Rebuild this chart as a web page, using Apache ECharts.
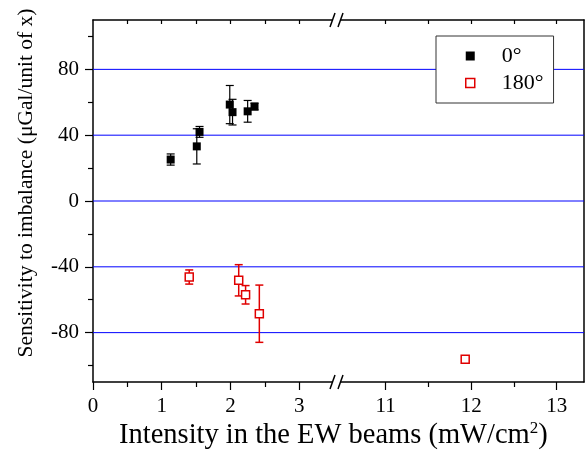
<!DOCTYPE html>
<html><head><meta charset="utf-8">
<script src="https://cdn.jsdelivr.net/npm/echarts@6/dist/echarts.min.js"></script>
<style>html,body{margin:0;padding:0;background:#fff}#c{width:586px;height:451px}</style>
</head><body><div id="c"></div>
<script>
// ---- data ----
const deg0X   = [1.13, 1.51, 1.55, 1.99, 2.03, 2.25, 2.35];
const deg0Y   = [25.2, 33.2, 42.0, 58.6, 54.0, 54.5, 57.4];
const deg0Err = [3.4, 10.7, 3.3, 11.6, 7.8, 6.6, 2.0];
const deg180X   = [1.40, 2.12, 2.22, 2.42, 11.93];
const deg180Y   = [-46.2, -48.2, -57.0, -68.5, -96.2];
const deg180Err = [4.3, 9.5, 5.6, 17.4, 1.0];

const xTicksLeft  = [0, 1, 2, 3];
const xMinorLeft  = [0.5, 1.5, 2.5];
const xTicksRight = [11, 12, 13];
const xMinorRight = [11.5, 12.5];
const xRangeLeft  = [0, 3.55];
const xRangeRight = [10.43, 13.32];
const yTicks = [-80, -40, 0, 40, 80];
const yMinor = [-100, -60, -20, 20, 60, 100];
const yRange = [-110, 110];

const FONT = 'Liberation Serif';

function pts(xs, ys, es, range) {
  const out = [];
  for (let i = 0; i < xs.length; i++) {
    if (xs[i] >= range[0] && xs[i] <= range[1]) out.push([xs[i], ys[i], es[i]]);
  }
  return out;
}

function errRender(color, lw) {
  return function (params, api) {
    const x = api.value(0), y = api.value(1), e = api.value(2);
    const t = api.coord([x, y + e]);
    const b = api.coord([x, y - e]);
    const hw = 4;
    const style = { stroke: color, lineWidth: lw, fill: null };
    return { type: 'group', children: [
      { type: 'line', shape: { x1: t[0], y1: t[1], x2: b[0], y2: b[1] }, style: style },
      { type: 'line', shape: { x1: t[0] - hw, y1: t[1], x2: t[0] + hw, y2: t[1] }, style: style },
      { type: 'line', shape: { x1: b[0] - hw, y1: b[1], x2: b[0] + hw, y2: b[1] }, style: style }
    ]};
  };
}

// blue horizontal reference lines at the major y ticks, drawn through the axes
function hlineRender(params, api) {
  const v = api.value(2);
  const a = api.coord([api.value(0), v]);
  const b = api.coord([api.value(1), v]);
  return { type: 'line', shape: { x1: a[0], y1: a[1], x2: b[0], y2: b[1] },
           style: { stroke: '#0000ff', lineWidth: 1, fill: null } };
}
function hlineData(range) { return yTicks.map(v => [range[0], range[1], v]); }

const axisLineStyle = { show: true, onZero: false, lineStyle: { color: '#000', width: 1.5 } };
const noLine = { show: false, onZero: false };
const lblStyle = { fontFamily: FONT, fontSize: 21, color: '#000' };

function xAxes(gridIndex, range, major, minor) {
  return [
    { type: 'value', gridIndex, position: 'bottom', min: range[0], max: range[1],
      axisLine: axisLineStyle,
      axisTick: { show: true, inside: false, length: 8, customValues: major, lineStyle: { color: '#000', width: 1.2 } },
      axisLabel: { show: true, customValues: major, margin: 14, ...lblStyle },
      splitLine: { show: false } },
    { type: 'value', gridIndex, position: 'bottom', min: range[0], max: range[1],
      axisLine: noLine,
      axisTick: { show: true, inside: false, length: 5, customValues: minor, lineStyle: { color: '#000', width: 1.2 } },
      axisLabel: { show: false }, splitLine: { show: false } },
    { type: 'value', gridIndex, position: 'top', min: range[0], max: range[1],
      axisLine: axisLineStyle,
      axisTick: { show: true, inside: true, length: 4, customValues: major.concat(minor).filter(v => v > range[0]), lineStyle: { color: '#000', width: 1.2 } },
      axisLabel: { show: false }, splitLine: { show: false } }
  ];
}

function breakMark(cx, cy) {
  return [
    { type: 'rect', shape: { x: cx - 4, y: cy - 2, width: 8, height: 4 }, style: { fill: '#fff' }, z: 100 },
    { type: 'line', shape: { x1: cx - 7, y1: cy + 7, x2: cx - 2, y2: cy - 7 }, style: { stroke: '#000', lineWidth: 1.5 }, z: 101 },
    { type: 'line', shape: { x1: cx + 1, y1: cy + 7, x2: cx + 6, y2: cy - 7 }, style: { stroke: '#000', lineWidth: 1.5 }, z: 101 }
  ];
}

const chart = echarts.init(document.getElementById('c'), null, { renderer: 'canvas' });
chart.setOption({
  animation: false,
  backgroundColor: '#fff',
  title: {
    text: '{a|Intensity in the EW beams (mW/cm}{s|2}{a|)}',
    left: 119, top: 420, padding: 0,
    textStyle: { fontWeight: 'normal', rich: {
      a: { fontFamily: FONT, fontSize: 28.5, fontWeight: 'normal', color: '#000' },
      s: { fontFamily: FONT, fontSize: 17, fontWeight: 'normal', color: '#000', padding: [0, 0, 14, 0] }
    } }
  },
  grid: [
    { left: 93, top: 20, width: 244, height: 362, containLabel: false, outerBoundsMode: 'none' },
    { left: 337, top: 20, width: 247, height: 362, containLabel: false, outerBoundsMode: 'none' }
  ],
  xAxis: [].concat(
    xAxes(0, xRangeLeft, xTicksLeft, xMinorLeft),
    xAxes(1, xRangeRight, xTicksRight, xMinorRight)
  ),
  yAxis: [
    { type: 'value', gridIndex: 0, position: 'left', min: yRange[0], max: yRange[1],
      axisLine: axisLineStyle,
      axisTick: { show: true, inside: false, length: 8, customValues: yTicks, lineStyle: { color: '#000', width: 1.2 } },
      axisLabel: { show: true, customValues: yTicks, margin: 14, ...lblStyle },
      splitLine: { show: false },
      name: 'Sensitivity to imbalance (μGal/unit of x)',
      nameLocation: 'middle', nameGap: 56,
      nameTextStyle: { fontFamily: FONT, fontSize: 21.5, color: '#000', padding: [0, 0, 0, 36] } },
    { type: 'value', gridIndex: 0, position: 'left', min: yRange[0], max: yRange[1],
      axisLine: noLine,
      axisTick: { show: true, inside: false, length: 5, customValues: yMinor, lineStyle: { color: '#000', width: 1.2 } },
      axisLabel: { show: false }, splitLine: { show: false } },
    { type: 'value', gridIndex: 1, position: 'right', min: yRange[0], max: yRange[1],
      axisLine: axisLineStyle,
      axisTick: { show: false },
      axisLabel: { show: false },
      splitLine: { show: false } }
  ],
  legend: {
    orient: 'vertical', left: 436, top: 36,
    padding: [9, 10, 9, 29],
    itemWidth: 9, itemHeight: 9, itemGap: 5,
    borderColor: '#333', borderWidth: 1, backgroundColor: '#fff',
    selectedMode: false,
    textStyle: { fontFamily: FONT, fontSize: 22, color: '#000', lineHeight: 22, padding: [0, 0, 0, 22] },
    data: [
      { name: '0°', icon: 'rect', itemStyle: { color: '#000', borderWidth: 0 } },
      { name: '180°', icon: 'rect', itemStyle: { color: '#fff', borderColor: '#e00000', borderWidth: 1.5 } }
    ]
  },
  series: [
    { name: 'gridL', type: 'custom', xAxisIndex: 0, yAxisIndex: 0, renderItem: hlineRender, silent: true,
      encode: { x: [0, 1], y: 2 }, data: hlineData(xRangeLeft), z: 1 },
    { name: 'gridR', type: 'custom', xAxisIndex: 3, yAxisIndex: 2, renderItem: hlineRender, silent: true,
      encode: { x: [0, 1], y: 2 }, data: hlineData(xRangeRight), z: 1 },
    { name: 'err0', type: 'custom', xAxisIndex: 0, yAxisIndex: 0, renderItem: errRender('#000', 1.2),
      encode: { x: 0, y: 1 }, data: pts(deg0X, deg0Y, deg0Err, xRangeLeft), z: 2 },
    { name: 'err180', type: 'custom', xAxisIndex: 0, yAxisIndex: 0, renderItem: errRender('#e00000', 1.5),
      encode: { x: 0, y: 1 }, data: pts(deg180X, deg180Y, deg180Err, xRangeLeft), z: 2 },
    { name: 'err180r', type: 'custom', xAxisIndex: 3, yAxisIndex: 2, renderItem: errRender('#e00000', 1.5),
      encode: { x: 0, y: 1 }, data: pts(deg180X, deg180Y, deg180Err, xRangeRight), z: 2 },
    { name: '0°', type: 'scatter', xAxisIndex: 0, yAxisIndex: 0, symbol: 'rect', symbolSize: 8,
      itemStyle: { color: '#000', opacity: 1 }, data: pts(deg0X, deg0Y, deg0Err, xRangeLeft).map(d => [d[0], d[1]]), z: 3 },
    { name: '180°', type: 'scatter', xAxisIndex: 0, yAxisIndex: 0, symbol: 'rect', symbolSize: 8,
      itemStyle: { color: '#fff', borderColor: '#e00000', borderWidth: 1.5, opacity: 1 },
      data: pts(deg180X, deg180Y, deg180Err, xRangeLeft).map(d => [d[0], d[1]]), z: 3 },
    { name: '180°', type: 'scatter', xAxisIndex: 3, yAxisIndex: 2, symbol: 'rect', symbolSize: 8,
      itemStyle: { color: '#fff', borderColor: '#e00000', borderWidth: 1.5, opacity: 1 },
      data: pts(deg180X, deg180Y, deg180Err, xRangeRight).map(d => [d[0], d[1]]), z: 3 }
  ],
  graphic: [].concat(breakMark(337, 20), breakMark(337, 382))
});
</script></body></html>
